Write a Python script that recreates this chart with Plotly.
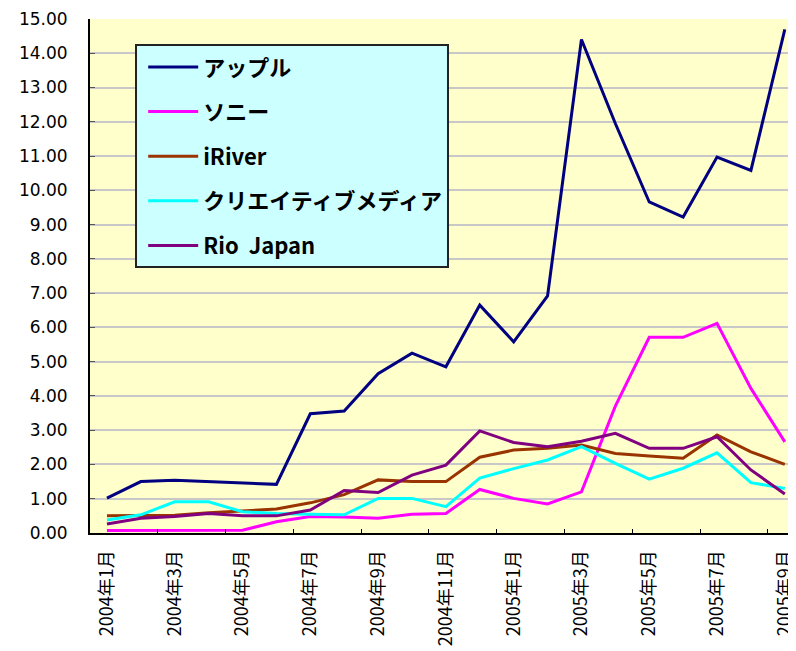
import plotly.graph_objects as go

months = ["2004年1月", "2004年2月", "2004年3月", "2004年4月", "2004年5月", "2004年6月",
          "2004年7月", "2004年8月", "2004年9月", "2004年10月", "2004年11月", "2004年12月",
          "2005年1月", "2005年2月", "2005年3月", "2005年4月", "2005年5月", "2005年6月",
          "2005年7月", "2005年8月", "2005年9月"]

apple = [1.02, 1.50, 1.54, 1.50, 1.46, 1.42, 3.48, 3.56, 4.65, 5.25, 4.85, 6.65,
         5.58, 6.92, 14.40, 11.95, 9.66, 9.22, 10.97, 10.58, 14.70]
sony = [0.07, 0.07, 0.07, 0.07, 0.08, 0.33, 0.48, 0.47, 0.43, 0.55, 0.57, 1.27,
        1.01, 0.85, 1.20, 3.70, 5.71, 5.71, 6.12, 4.22, 2.66]
iriver = [0.50, 0.50, 0.52, 0.59, 0.64, 0.70, 0.88, 1.12, 1.55, 1.50, 1.50, 2.21,
          2.42, 2.47, 2.57, 2.32, 2.25, 2.18, 2.86, 2.37, 2.00]
creative = [0.38, 0.53, 0.91, 0.91, 0.62, 0.57, 0.55, 0.53, 1.01, 1.01, 0.77, 1.60,
            1.88, 2.13, 2.52, 2.03, 1.57, 1.89, 2.34, 1.47, 1.30]
rio = [0.26, 0.43, 0.48, 0.57, 0.50, 0.50, 0.67, 1.24, 1.18, 1.69, 1.98, 2.98,
       2.64, 2.52, 2.68, 2.91, 2.47, 2.47, 2.81, 1.84, 1.14]

series = [
    ("アップル", apple, "#000080"),
    ("ソニー", sony, "#FF00FF"),
    ("iRiver", iriver, "#993300"),
    ("クリエイティブメディア", creative, "#00FFFF"),
    ("Rio  Japan", rio, "#800080"),
]

fig = go.Figure()
for i, (name, vals, color) in enumerate(series):
    fig.add_trace(go.Scatter(
        x=months, y=vals, name=name, mode="lines",
        line=dict(color=color, width=3), legendgroup=f"g{i}",
    ))

fig.update_layout(
    width=788, height=643,
    margin=dict(l=82, r=0, t=11, b=118, autoexpand=False),
    paper_bgcolor="#FFFFFF",
    plot_bgcolor="#FFFFCC",
    font=dict(family="Noto Sans CJK JP", color="#000000"),
    showlegend=True,
    legend=dict(
        x=0.064, y=0.951, xanchor="left", yanchor="top",
        bgcolor="#CCFFFF", bordercolor="#222222", borderwidth=2,
        font=dict(family="Noto Sans CJK JP", size=22, color="#000000", weight="bold"),
        itemwidth=50, tracegroupgap=13, traceorder="grouped", indentation=6,
    ),
    xaxis=dict(
        type="category", range=[-0.5, 20.33], automargin=False,
        tickmode="linear", tick0=0, dtick=2,
        tickson="boundaries",
        ticks="inside", ticklen=4, tickcolor="#000000", tickwidth=1,
        tickangle=-90, tickfont=dict(size=18, family="Noto Sans CJK JP"),
        ticklabelstandoff=8,
        showline=True, linecolor="#000000", linewidth=2,
        showgrid=False, zeroline=False,
    ),
    yaxis=dict(
        range=[0, 15], tickmode="linear", tick0=0, dtick=1, tickformat=".2f",
        automargin=False,
        ticks="inside", ticklen=5, tickcolor="#555555",
        tickfont=dict(size=17, family="DejaVu Sans"),
        ticklabelstandoff=17,
        showline=True, linecolor="#000000", linewidth=2,
        showgrid=True, gridcolor="#C8C8C8", gridwidth=2,
        zeroline=False,
    ),
)

fig.write_html("out.html")
